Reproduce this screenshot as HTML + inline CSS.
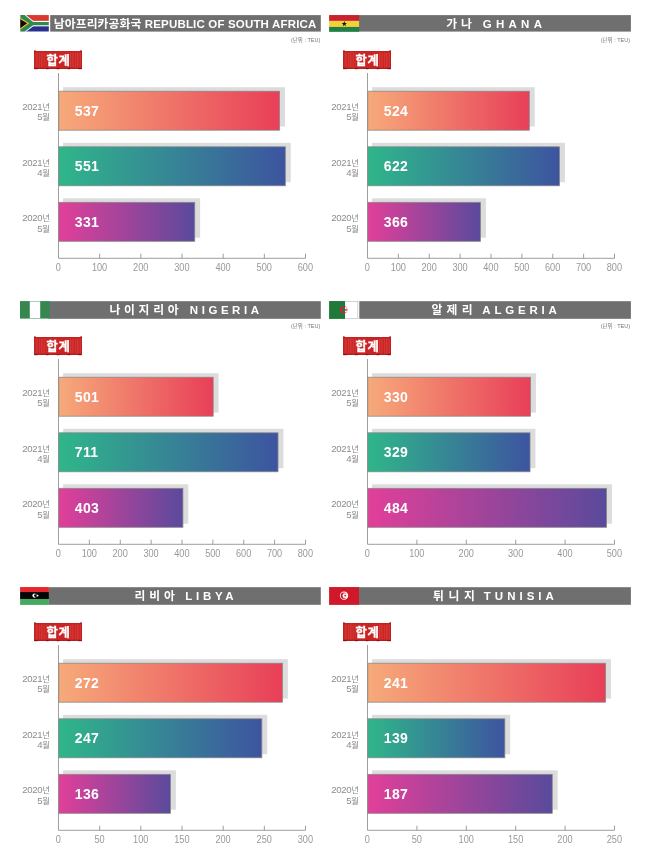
<!DOCTYPE html>
<html lang="ko"><head><meta charset="utf-8"><title>TEU</title>
<style>
html,body{margin:0;padding:0;background:#fff;}
body{width:650px;height:858px;overflow:hidden;}
svg{display:block;}
text{font-family:"Liberation Sans","Noto Sans CJK KR","NanumGothic",sans-serif;}
.tt{font-size:11.5px;font-weight:bold;fill:#fff;}
.ko{font-size:11.8px;}

.sp{letter-spacing:4px;}
.unit{font-size:5.5px;fill:#777;}
.bd{font-size:12.3px;font-weight:bold;fill:#fff;letter-spacing:0.8px;stroke:#fff;stroke-width:0.3px;}
.xl{font-size:10.2px;fill:#999;letter-spacing:0px;}
.yl{font-size:9.6px;fill:#8c8c8c;letter-spacing:-0.3px;}
.yk{font-size:8.4px;letter-spacing:0;}
.bv{font-size:14px;font-weight:bold;fill:#fff;letter-spacing:0.35px;}
</style></head><body>
<svg width="650" height="858" viewBox="0 0 650 858">
<defs>
<linearGradient id="g1" x1="0" y1="0" x2="1" y2="0"><stop offset="0" stop-color="#f6aa7a"/><stop offset="1" stop-color="#e83f58"/></linearGradient>
<linearGradient id="g2" x1="0" y1="0" x2="1" y2="0"><stop offset="0" stop-color="#2fb68a"/><stop offset="1" stop-color="#3d54a0"/></linearGradient>
<linearGradient id="g3" x1="0" y1="0" x2="1" y2="0"><stop offset="0" stop-color="#e23f99"/><stop offset="1" stop-color="#5a4a9c"/></linearGradient>
<pattern id="ribs" width="2.4" height="4" patternUnits="userSpaceOnUse"><rect width="2.4" height="4" fill="#c92222"/><rect x="0.2" width="0.9" height="4" fill="#d8433d"/></pattern>
</defs>
<rect width="650" height="858" fill="#fff"/>
<g transform="translate(0,0)">
<rect x="50.2" y="15.1" width="270.6" height="16.5" fill="#6f6f6f"/>
<g transform="translate(20.2,15.05)"><clipPath id="cza"><rect width="28.7" height="16.6"/></clipPath><g clip-path="url(#cza)">
<rect width="28.7" height="16.6" fill="#fff"/>
<rect width="28.7" height="5.8" fill="#d93a30"/>
<rect y="11.1" width="28.7" height="5.50" fill="#2a2f8f"/>
<path d="M0,0 L4.4,0 L12.9,6.9 L28.7,6.9 L28.7,10.2 L12.9,10.2 L4.4,16.6 L0,16.6 Z" fill="#fff" stroke="#fff" stroke-width="1.9"/>
<path d="M0,0 L4.4,0 L12.9,6.9 L28.7,6.9 L28.7,10.2 L12.9,10.2 L4.4,16.6 L0,16.6 Z" fill="#2e8b4f"/>
<path d="M0,2.8 L9.1,8.3 L0,14.7 Z" fill="#f2b632"/>
<path d="M0,4.2 L6.9,8.3 L0,13.2 Z" fill="#0a0a0a"/>
</g></g>
<text class="tt" x="53.8" y="27.6" style="letter-spacing:0.17px"><tspan class="ko" style="letter-spacing:0.1px">남아프리카공화국</tspan> REPUBLIC OF SOUTH AFRICA</text>
<text class="unit" x="320.3" y="42.2" text-anchor="end">(단위 : TEU)</text>
<g transform="translate(34,50.7)">
<rect x="0" y="0.4" width="48" height="17.9" fill="url(#ribs)"/>
<rect x="0" y="0.4" width="48" height="1.3" fill="#c11f22"/>
<rect x="0" y="16.9" width="48" height="1.4" fill="#b81c20"/>
<rect x="0" y="0.4" width="0.9" height="17.9" fill="#c11f22"/><rect x="47.1" y="0.4" width="0.9" height="17.9" fill="#c11f22"/>
<rect x="12.5" y="2" width="23.5" height="14.6" fill="#c92222" opacity="0.8"/>
<rect x="0" y="-0.3" width="1.8" height="1.2" fill="#a3181c"/><rect x="46.2" y="-0.3" width="1.8" height="1.2" fill="#a3181c"/>
<rect x="0.4" y="17.6" width="3.2" height="0.9" fill="#6d1013"/><rect x="12" y="17.6" width="2.6" height="0.9" fill="#6d1013"/><rect x="22.8" y="17.6" width="2.6" height="0.9" fill="#6d1013"/><rect x="33.6" y="17.6" width="2.6" height="0.9" fill="#6d1013"/><rect x="44.4" y="17.6" width="3.2" height="0.9" fill="#6d1013"/>
</g>
<text class="bd" x="58.5" y="64.9" text-anchor="middle">합계</text>
<path d="M58.5,73 V258.3 H305.5" fill="none" stroke="#868686" stroke-width="0.8"/>
<path d="M99.67,258.3 v-4.6 M140.83,258.3 v-4.6 M182.00,258.3 v-4.6 M223.17,258.3 v-4.6 M264.33,258.3 v-4.6 M305.50,258.3 v-4.6 " fill="none" stroke="#868686" stroke-width="0.8"/>
<text class="xl" transform="translate(58.40,270.7) scale(0.9,1)" text-anchor="middle">0</text>
<text class="xl" transform="translate(99.57,270.7) scale(0.9,1)" text-anchor="middle">100</text>
<text class="xl" transform="translate(140.73,270.7) scale(0.9,1)" text-anchor="middle">200</text>
<text class="xl" transform="translate(181.90,270.7) scale(0.9,1)" text-anchor="middle">300</text>
<text class="xl" transform="translate(223.07,270.7) scale(0.9,1)" text-anchor="middle">400</text>
<text class="xl" transform="translate(264.23,270.7) scale(0.9,1)" text-anchor="middle">500</text>
<text class="xl" transform="translate(305.40,270.7) scale(0.9,1)" text-anchor="middle">600</text>
<rect x="63.10" y="87.20" width="221.86" height="39.40" fill="#dcdcdc"/>
<rect x="58.80" y="91.20" width="220.76" height="39.00" fill="url(#g1)" stroke="#878787" stroke-width="0.75"/>
<text class="bv" x="74.8" y="115.70">537</text>
<text class="yl" x="50" y="110.20" text-anchor="end">2021<tspan class="yk">년</tspan></text>
<text class="yl" x="50" y="120.40" text-anchor="end">5<tspan class="yk">월</tspan></text>
<rect x="63.10" y="142.80" width="227.63" height="39.40" fill="#dcdcdc"/>
<rect x="58.80" y="146.80" width="226.53" height="39.00" fill="url(#g2)" stroke="#878787" stroke-width="0.75"/>
<text class="bv" x="74.8" y="171.30">551</text>
<text class="yl" x="50" y="165.80" text-anchor="end">2021<tspan class="yk">년</tspan></text>
<text class="yl" x="50" y="176.00" text-anchor="end">4<tspan class="yk">월</tspan></text>
<rect x="63.10" y="198.30" width="137.06" height="39.40" fill="#dcdcdc"/>
<rect x="58.80" y="202.30" width="135.96" height="39.00" fill="url(#g3)" stroke="#878787" stroke-width="0.75"/>
<text class="bv" x="74.8" y="226.80">331</text>
<text class="yl" x="50" y="221.30" text-anchor="end">2020<tspan class="yk">년</tspan></text>
<text class="yl" x="50" y="231.50" text-anchor="end">5<tspan class="yk">월</tspan></text>
</g>
<g transform="translate(309,0)">
<rect x="48.8" y="15.1" width="273.1" height="16.5" fill="#6f6f6f"/>
<g transform="translate(20.1,15.05)">
<rect width="30.0" height="5.9" fill="#c8212f"/>
<rect y="5.8" width="30.0" height="6.2" fill="#f4d03a"/>
<rect y="11.9" width="30.0" height="4.90" fill="#1f7f46"/>
<polygon points="15.20,5.95 15.84,7.92 17.91,7.92 16.24,9.14 16.88,11.11 15.20,9.89 13.52,11.11 14.16,9.14 12.49,7.92 14.56,7.92" fill="#111"/>
</g>
<text class="tt ko" x="137.20" y="27.5" style="letter-spacing:3.90px">가나</text>
<text class="tt" x="173.80" y="27.5" style="letter-spacing:4.25px">GHANA</text>
<text class="unit" x="321.1" y="42.2" text-anchor="end">(단위 : TEU)</text>
<g transform="translate(34,50.7)">
<rect x="0" y="0.4" width="48" height="17.9" fill="url(#ribs)"/>
<rect x="0" y="0.4" width="48" height="1.3" fill="#c11f22"/>
<rect x="0" y="16.9" width="48" height="1.4" fill="#b81c20"/>
<rect x="0" y="0.4" width="0.9" height="17.9" fill="#c11f22"/><rect x="47.1" y="0.4" width="0.9" height="17.9" fill="#c11f22"/>
<rect x="12.5" y="2" width="23.5" height="14.6" fill="#c92222" opacity="0.8"/>
<rect x="0" y="-0.3" width="1.8" height="1.2" fill="#a3181c"/><rect x="46.2" y="-0.3" width="1.8" height="1.2" fill="#a3181c"/>
<rect x="0.4" y="17.6" width="3.2" height="0.9" fill="#6d1013"/><rect x="12" y="17.6" width="2.6" height="0.9" fill="#6d1013"/><rect x="22.8" y="17.6" width="2.6" height="0.9" fill="#6d1013"/><rect x="33.6" y="17.6" width="2.6" height="0.9" fill="#6d1013"/><rect x="44.4" y="17.6" width="3.2" height="0.9" fill="#6d1013"/>
</g>
<text class="bd" x="58.5" y="64.9" text-anchor="middle">합계</text>
<path d="M58.5,73 V258.3 H305.5" fill="none" stroke="#868686" stroke-width="0.8"/>
<path d="M89.38,258.3 v-4.6 M120.25,258.3 v-4.6 M151.12,258.3 v-4.6 M182.00,258.3 v-4.6 M212.88,258.3 v-4.6 M243.75,258.3 v-4.6 M274.62,258.3 v-4.6 M305.50,258.3 v-4.6 " fill="none" stroke="#868686" stroke-width="0.8"/>
<text class="xl" transform="translate(58.40,270.7) scale(0.9,1)" text-anchor="middle">0</text>
<text class="xl" transform="translate(89.28,270.7) scale(0.9,1)" text-anchor="middle">100</text>
<text class="xl" transform="translate(120.15,270.7) scale(0.9,1)" text-anchor="middle">200</text>
<text class="xl" transform="translate(151.03,270.7) scale(0.9,1)" text-anchor="middle">300</text>
<text class="xl" transform="translate(181.90,270.7) scale(0.9,1)" text-anchor="middle">400</text>
<text class="xl" transform="translate(212.78,270.7) scale(0.9,1)" text-anchor="middle">500</text>
<text class="xl" transform="translate(243.65,270.7) scale(0.9,1)" text-anchor="middle">600</text>
<text class="xl" transform="translate(274.52,270.7) scale(0.9,1)" text-anchor="middle">700</text>
<text class="xl" transform="translate(305.40,270.7) scale(0.9,1)" text-anchor="middle">800</text>
<rect x="63.10" y="87.20" width="162.59" height="39.40" fill="#dcdcdc"/>
<rect x="58.80" y="91.20" width="161.49" height="39.00" fill="url(#g1)" stroke="#878787" stroke-width="0.75"/>
<text class="bv" x="74.8" y="115.70">524</text>
<text class="yl" x="50" y="110.20" text-anchor="end">2021<tspan class="yk">년</tspan></text>
<text class="yl" x="50" y="120.40" text-anchor="end">5<tspan class="yk">월</tspan></text>
<rect x="63.10" y="142.80" width="192.84" height="39.40" fill="#dcdcdc"/>
<rect x="58.80" y="146.80" width="191.74" height="39.00" fill="url(#g2)" stroke="#878787" stroke-width="0.75"/>
<text class="bv" x="74.8" y="171.30">622</text>
<text class="yl" x="50" y="165.80" text-anchor="end">2021<tspan class="yk">년</tspan></text>
<text class="yl" x="50" y="176.00" text-anchor="end">4<tspan class="yk">월</tspan></text>
<rect x="63.10" y="198.30" width="113.80" height="39.40" fill="#dcdcdc"/>
<rect x="58.80" y="202.30" width="112.70" height="39.00" fill="url(#g3)" stroke="#878787" stroke-width="0.75"/>
<text class="bv" x="74.8" y="226.80">366</text>
<text class="yl" x="50" y="221.30" text-anchor="end">2020<tspan class="yk">년</tspan></text>
<text class="yl" x="50" y="231.50" text-anchor="end">5<tspan class="yk">월</tspan></text>
</g>
<g transform="translate(0,286)">
<rect x="48.8" y="15.2" width="272.0" height="17.6" fill="#6f6f6f"/>
<g transform="translate(20,15.10)">
<rect width="29.8" height="17.5" fill="#37864f"/>
<rect x="9.8" y="0.35" width="10.4" height="16.8" fill="#fff"/>
</g>
<text class="tt ko" x="109.50" y="27.7" style="letter-spacing:3.70px">나이지리아</text>
<text class="tt" x="189.80" y="27.7" style="letter-spacing:3.55px">NIGERIA</text>
<text class="unit" x="320.3" y="42.2" text-anchor="end">(단위 : TEU)</text>
<g transform="translate(34,50.7)">
<rect x="0" y="0.4" width="48" height="17.9" fill="url(#ribs)"/>
<rect x="0" y="0.4" width="48" height="1.3" fill="#c11f22"/>
<rect x="0" y="16.9" width="48" height="1.4" fill="#b81c20"/>
<rect x="0" y="0.4" width="0.9" height="17.9" fill="#c11f22"/><rect x="47.1" y="0.4" width="0.9" height="17.9" fill="#c11f22"/>
<rect x="12.5" y="2" width="23.5" height="14.6" fill="#c92222" opacity="0.8"/>
<rect x="0" y="-0.3" width="1.8" height="1.2" fill="#a3181c"/><rect x="46.2" y="-0.3" width="1.8" height="1.2" fill="#a3181c"/>
<rect x="0.4" y="17.6" width="3.2" height="0.9" fill="#6d1013"/><rect x="12" y="17.6" width="2.6" height="0.9" fill="#6d1013"/><rect x="22.8" y="17.6" width="2.6" height="0.9" fill="#6d1013"/><rect x="33.6" y="17.6" width="2.6" height="0.9" fill="#6d1013"/><rect x="44.4" y="17.6" width="3.2" height="0.9" fill="#6d1013"/>
</g>
<text class="bd" x="58.5" y="64.9" text-anchor="middle">합계</text>
<path d="M58.5,73 V258.3 H305.5" fill="none" stroke="#868686" stroke-width="0.8"/>
<path d="M89.38,258.3 v-4.6 M120.25,258.3 v-4.6 M151.12,258.3 v-4.6 M182.00,258.3 v-4.6 M212.88,258.3 v-4.6 M243.75,258.3 v-4.6 M274.62,258.3 v-4.6 M305.50,258.3 v-4.6 " fill="none" stroke="#868686" stroke-width="0.8"/>
<text class="xl" transform="translate(58.40,270.7) scale(0.9,1)" text-anchor="middle">0</text>
<text class="xl" transform="translate(89.28,270.7) scale(0.9,1)" text-anchor="middle">100</text>
<text class="xl" transform="translate(120.15,270.7) scale(0.9,1)" text-anchor="middle">200</text>
<text class="xl" transform="translate(151.03,270.7) scale(0.9,1)" text-anchor="middle">300</text>
<text class="xl" transform="translate(181.90,270.7) scale(0.9,1)" text-anchor="middle">400</text>
<text class="xl" transform="translate(212.78,270.7) scale(0.9,1)" text-anchor="middle">500</text>
<text class="xl" transform="translate(243.65,270.7) scale(0.9,1)" text-anchor="middle">600</text>
<text class="xl" transform="translate(274.52,270.7) scale(0.9,1)" text-anchor="middle">700</text>
<text class="xl" transform="translate(305.40,270.7) scale(0.9,1)" text-anchor="middle">800</text>
<rect x="63.10" y="87.20" width="155.48" height="39.40" fill="#dcdcdc"/>
<rect x="58.80" y="91.20" width="154.38" height="39.00" fill="url(#g1)" stroke="#878787" stroke-width="0.75"/>
<text class="bv" x="74.8" y="115.70">501</text>
<text class="yl" x="50" y="110.20" text-anchor="end">2021<tspan class="yk">년</tspan></text>
<text class="yl" x="50" y="120.40" text-anchor="end">5<tspan class="yk">월</tspan></text>
<rect x="63.10" y="142.80" width="220.32" height="39.40" fill="#dcdcdc"/>
<rect x="58.80" y="146.80" width="219.22" height="39.00" fill="url(#g2)" stroke="#878787" stroke-width="0.75"/>
<text class="bv" x="74.8" y="171.30">711</text>
<text class="yl" x="50" y="165.80" text-anchor="end">2021<tspan class="yk">년</tspan></text>
<text class="yl" x="50" y="176.00" text-anchor="end">4<tspan class="yk">월</tspan></text>
<rect x="63.10" y="198.30" width="125.23" height="39.40" fill="#dcdcdc"/>
<rect x="58.80" y="202.30" width="124.13" height="39.00" fill="url(#g3)" stroke="#878787" stroke-width="0.75"/>
<text class="bv" x="74.8" y="226.80">403</text>
<text class="yl" x="50" y="221.30" text-anchor="end">2020<tspan class="yk">년</tspan></text>
<text class="yl" x="50" y="231.50" text-anchor="end">5<tspan class="yk">월</tspan></text>
</g>
<g transform="translate(309,286)">
<rect x="48.8" y="15.2" width="273.1" height="17.6" fill="#6f6f6f"/>
<g transform="translate(20.1,15.05)">
<rect x="0" y="0" width="30.2" height="17.85" fill="#fff"/><rect x="0.25" y="0.25" width="28.5" height="17.35" fill="#fff" stroke="#a8a8a8" stroke-width="0.5"/>
<rect width="15.9" height="17.85" fill="#1f7a3a"/>
<path fill-rule="evenodd" d="M10.80,8.75 a3.7,3.7 0 1,0 7.4,0 a3.7,3.7 0 1,0 -7.4,0 Z M12.95,8.75 a2.75,2.75 0 1,0 5.5,0 a2.75,2.75 0 1,0 -5.5,0 Z" fill="#d5213c"/>
<polygon points="17.46,7.04 17.46,8.35 18.70,8.75 17.46,9.15 17.46,10.46 16.69,9.40 15.44,9.81 16.21,8.75 15.44,7.69 16.69,8.10" fill="#d5213c"/>
</g>
<text class="tt ko" x="122.50" y="27.7" style="letter-spacing:4.25px">알제리</text>
<text class="tt" x="173.30" y="27.7" style="letter-spacing:3.80px">ALGERIA</text>
<text class="unit" x="321.1" y="42.2" text-anchor="end">(단위 : TEU)</text>
<g transform="translate(34,50.7)">
<rect x="0" y="0.4" width="48" height="17.9" fill="url(#ribs)"/>
<rect x="0" y="0.4" width="48" height="1.3" fill="#c11f22"/>
<rect x="0" y="16.9" width="48" height="1.4" fill="#b81c20"/>
<rect x="0" y="0.4" width="0.9" height="17.9" fill="#c11f22"/><rect x="47.1" y="0.4" width="0.9" height="17.9" fill="#c11f22"/>
<rect x="12.5" y="2" width="23.5" height="14.6" fill="#c92222" opacity="0.8"/>
<rect x="0" y="-0.3" width="1.8" height="1.2" fill="#a3181c"/><rect x="46.2" y="-0.3" width="1.8" height="1.2" fill="#a3181c"/>
<rect x="0.4" y="17.6" width="3.2" height="0.9" fill="#6d1013"/><rect x="12" y="17.6" width="2.6" height="0.9" fill="#6d1013"/><rect x="22.8" y="17.6" width="2.6" height="0.9" fill="#6d1013"/><rect x="33.6" y="17.6" width="2.6" height="0.9" fill="#6d1013"/><rect x="44.4" y="17.6" width="3.2" height="0.9" fill="#6d1013"/>
</g>
<text class="bd" x="58.5" y="64.9" text-anchor="middle">합계</text>
<path d="M58.5,73 V258.3 H305.5" fill="none" stroke="#868686" stroke-width="0.8"/>
<path d="M107.90,258.3 v-4.6 M157.30,258.3 v-4.6 M206.70,258.3 v-4.6 M256.10,258.3 v-4.6 M305.50,258.3 v-4.6 " fill="none" stroke="#868686" stroke-width="0.8"/>
<text class="xl" transform="translate(58.40,270.7) scale(0.9,1)" text-anchor="middle">0</text>
<text class="xl" transform="translate(107.80,270.7) scale(0.9,1)" text-anchor="middle">100</text>
<text class="xl" transform="translate(157.20,270.7) scale(0.9,1)" text-anchor="middle">200</text>
<text class="xl" transform="translate(206.60,270.7) scale(0.9,1)" text-anchor="middle">300</text>
<text class="xl" transform="translate(256.00,270.7) scale(0.9,1)" text-anchor="middle">400</text>
<text class="xl" transform="translate(305.40,270.7) scale(0.9,1)" text-anchor="middle">500</text>
<rect x="63.10" y="87.20" width="163.82" height="39.40" fill="#dcdcdc"/>
<rect x="58.80" y="91.20" width="162.72" height="39.00" fill="url(#g1)" stroke="#878787" stroke-width="0.75"/>
<text class="bv" x="74.8" y="115.70">330</text>
<text class="yl" x="50" y="110.20" text-anchor="end">2021<tspan class="yk">년</tspan></text>
<text class="yl" x="50" y="120.40" text-anchor="end">5<tspan class="yk">월</tspan></text>
<rect x="63.10" y="142.80" width="163.33" height="39.40" fill="#dcdcdc"/>
<rect x="58.80" y="146.80" width="162.23" height="39.00" fill="url(#g2)" stroke="#878787" stroke-width="0.75"/>
<text class="bv" x="74.8" y="171.30">329</text>
<text class="yl" x="50" y="165.80" text-anchor="end">2021<tspan class="yk">년</tspan></text>
<text class="yl" x="50" y="176.00" text-anchor="end">4<tspan class="yk">월</tspan></text>
<rect x="63.10" y="198.30" width="239.90" height="39.40" fill="#dcdcdc"/>
<rect x="58.80" y="202.30" width="238.80" height="39.00" fill="url(#g3)" stroke="#878787" stroke-width="0.75"/>
<text class="bv" x="74.8" y="226.80">484</text>
<text class="yl" x="50" y="221.30" text-anchor="end">2020<tspan class="yk">년</tspan></text>
<text class="yl" x="50" y="231.50" text-anchor="end">5<tspan class="yk">월</tspan></text>
</g>
<g transform="translate(0,572)">
<rect x="48.8" y="15.2" width="272.0" height="17.6" fill="#6f6f6f"/>
<g transform="translate(20.1,15.05)">
<rect width="28.8" height="5.1" fill="#e8262d"/>
<rect y="5.0" width="28.8" height="7.0" fill="#050505"/>
<rect y="11.9" width="28.8" height="5.95" fill="#47a961"/>
<path fill-rule="evenodd" d="M12.25,8.55 a2.15,2.15 0 1,0 4.3,0 a2.15,2.15 0 1,0 -4.3,0 Z M13.90,8.55 a1.45,1.45 0 1,0 2.9,0 a1.45,1.45 0 1,0 -2.9,0 Z" fill="#fff"/>
<polygon points="17.92,7.27 18.00,8.19 18.85,8.55 18.00,8.91 17.92,9.83 17.31,9.14 16.41,9.34 16.88,8.55 16.41,7.76 17.31,7.96" fill="#fff"/>
</g>
<text class="tt ko" x="134.40" y="27.7" style="letter-spacing:3.95px">리비아</text>
<text class="tt" x="185.30" y="27.7" style="letter-spacing:3.70px">LIBYA</text>
<g transform="translate(34,50.7)">
<rect x="0" y="0.4" width="48" height="17.9" fill="url(#ribs)"/>
<rect x="0" y="0.4" width="48" height="1.3" fill="#c11f22"/>
<rect x="0" y="16.9" width="48" height="1.4" fill="#b81c20"/>
<rect x="0" y="0.4" width="0.9" height="17.9" fill="#c11f22"/><rect x="47.1" y="0.4" width="0.9" height="17.9" fill="#c11f22"/>
<rect x="12.5" y="2" width="23.5" height="14.6" fill="#c92222" opacity="0.8"/>
<rect x="0" y="-0.3" width="1.8" height="1.2" fill="#a3181c"/><rect x="46.2" y="-0.3" width="1.8" height="1.2" fill="#a3181c"/>
<rect x="0.4" y="17.6" width="3.2" height="0.9" fill="#6d1013"/><rect x="12" y="17.6" width="2.6" height="0.9" fill="#6d1013"/><rect x="22.8" y="17.6" width="2.6" height="0.9" fill="#6d1013"/><rect x="33.6" y="17.6" width="2.6" height="0.9" fill="#6d1013"/><rect x="44.4" y="17.6" width="3.2" height="0.9" fill="#6d1013"/>
</g>
<text class="bd" x="58.5" y="64.9" text-anchor="middle">합계</text>
<path d="M58.5,73 V258.3 H305.5" fill="none" stroke="#868686" stroke-width="0.8"/>
<path d="M99.67,258.3 v-4.6 M140.83,258.3 v-4.6 M182.00,258.3 v-4.6 M223.17,258.3 v-4.6 M264.33,258.3 v-4.6 M305.50,258.3 v-4.6 " fill="none" stroke="#868686" stroke-width="0.8"/>
<text class="xl" transform="translate(58.40,270.7) scale(0.9,1)" text-anchor="middle">0</text>
<text class="xl" transform="translate(99.57,270.7) scale(0.9,1)" text-anchor="middle">50</text>
<text class="xl" transform="translate(140.73,270.7) scale(0.9,1)" text-anchor="middle">100</text>
<text class="xl" transform="translate(181.90,270.7) scale(0.9,1)" text-anchor="middle">150</text>
<text class="xl" transform="translate(223.07,270.7) scale(0.9,1)" text-anchor="middle">200</text>
<text class="xl" transform="translate(264.23,270.7) scale(0.9,1)" text-anchor="middle">250</text>
<text class="xl" transform="translate(305.40,270.7) scale(0.9,1)" text-anchor="middle">300</text>
<rect x="63.10" y="87.20" width="224.75" height="39.40" fill="#dcdcdc"/>
<rect x="58.80" y="91.20" width="223.65" height="39.00" fill="url(#g1)" stroke="#878787" stroke-width="0.75"/>
<text class="bv" x="74.8" y="115.70">272</text>
<text class="yl" x="50" y="110.20" text-anchor="end">2021<tspan class="yk">년</tspan></text>
<text class="yl" x="50" y="120.40" text-anchor="end">5<tspan class="yk">월</tspan></text>
<rect x="63.10" y="142.80" width="204.16" height="39.40" fill="#dcdcdc"/>
<rect x="58.80" y="146.80" width="203.06" height="39.00" fill="url(#g2)" stroke="#878787" stroke-width="0.75"/>
<text class="bv" x="74.8" y="171.30">247</text>
<text class="yl" x="50" y="165.80" text-anchor="end">2021<tspan class="yk">년</tspan></text>
<text class="yl" x="50" y="176.00" text-anchor="end">4<tspan class="yk">월</tspan></text>
<rect x="63.10" y="198.30" width="112.77" height="39.40" fill="#dcdcdc"/>
<rect x="58.80" y="202.30" width="111.67" height="39.00" fill="url(#g3)" stroke="#878787" stroke-width="0.75"/>
<text class="bv" x="74.8" y="226.80">136</text>
<text class="yl" x="50" y="221.30" text-anchor="end">2020<tspan class="yk">년</tspan></text>
<text class="yl" x="50" y="231.50" text-anchor="end">5<tspan class="yk">월</tspan></text>
</g>
<g transform="translate(309,572)">
<rect x="48.8" y="15.2" width="273.1" height="17.6" fill="#6f6f6f"/>
<g transform="translate(20.1,15.05)">
<rect width="29.9" height="17.85" fill="#d0182b"/>
<circle cx="14.95" cy="8.6" r="4.15" fill="#fff"/>
<path fill-rule="evenodd" d="M11.60,8.60 a3.1,3.1 0 1,0 6.2,0 a3.1,3.1 0 1,0 -6.2,0 Z M13.40,8.60 a2.3,2.3 0 1,0 4.6,0 a2.3,2.3 0 1,0 -4.6,0 Z" fill="#d0182b"/>
<polygon points="16.58,7.13 16.58,8.25 17.65,8.60 16.58,8.95 16.58,10.07 15.92,9.16 14.85,9.51 15.51,8.60 14.85,7.69 15.92,8.04" fill="#d0182b"/>
</g>
<text class="tt ko" x="124.00" y="27.7" style="letter-spacing:4.70px">튀니지</text>
<text class="tt" x="174.80" y="27.7" style="letter-spacing:4.00px">TUNISIA</text>
<g transform="translate(34,50.7)">
<rect x="0" y="0.4" width="48" height="17.9" fill="url(#ribs)"/>
<rect x="0" y="0.4" width="48" height="1.3" fill="#c11f22"/>
<rect x="0" y="16.9" width="48" height="1.4" fill="#b81c20"/>
<rect x="0" y="0.4" width="0.9" height="17.9" fill="#c11f22"/><rect x="47.1" y="0.4" width="0.9" height="17.9" fill="#c11f22"/>
<rect x="12.5" y="2" width="23.5" height="14.6" fill="#c92222" opacity="0.8"/>
<rect x="0" y="-0.3" width="1.8" height="1.2" fill="#a3181c"/><rect x="46.2" y="-0.3" width="1.8" height="1.2" fill="#a3181c"/>
<rect x="0.4" y="17.6" width="3.2" height="0.9" fill="#6d1013"/><rect x="12" y="17.6" width="2.6" height="0.9" fill="#6d1013"/><rect x="22.8" y="17.6" width="2.6" height="0.9" fill="#6d1013"/><rect x="33.6" y="17.6" width="2.6" height="0.9" fill="#6d1013"/><rect x="44.4" y="17.6" width="3.2" height="0.9" fill="#6d1013"/>
</g>
<text class="bd" x="58.5" y="64.9" text-anchor="middle">합계</text>
<path d="M58.5,73 V258.3 H305.5" fill="none" stroke="#868686" stroke-width="0.8"/>
<path d="M107.90,258.3 v-4.6 M157.30,258.3 v-4.6 M206.70,258.3 v-4.6 M256.10,258.3 v-4.6 M305.50,258.3 v-4.6 " fill="none" stroke="#868686" stroke-width="0.8"/>
<text class="xl" transform="translate(58.40,270.7) scale(0.9,1)" text-anchor="middle">0</text>
<text class="xl" transform="translate(107.80,270.7) scale(0.9,1)" text-anchor="middle">50</text>
<text class="xl" transform="translate(157.20,270.7) scale(0.9,1)" text-anchor="middle">100</text>
<text class="xl" transform="translate(206.60,270.7) scale(0.9,1)" text-anchor="middle">150</text>
<text class="xl" transform="translate(256.00,270.7) scale(0.9,1)" text-anchor="middle">200</text>
<text class="xl" transform="translate(305.40,270.7) scale(0.9,1)" text-anchor="middle">250</text>
<rect x="63.10" y="87.20" width="238.91" height="39.40" fill="#dcdcdc"/>
<rect x="58.80" y="91.20" width="237.81" height="39.00" fill="url(#g1)" stroke="#878787" stroke-width="0.75"/>
<text class="bv" x="74.8" y="115.70">241</text>
<text class="yl" x="50" y="110.20" text-anchor="end">2021<tspan class="yk">년</tspan></text>
<text class="yl" x="50" y="120.40" text-anchor="end">5<tspan class="yk">월</tspan></text>
<rect x="63.10" y="142.80" width="138.13" height="39.40" fill="#dcdcdc"/>
<rect x="58.80" y="146.80" width="137.03" height="39.00" fill="url(#g2)" stroke="#878787" stroke-width="0.75"/>
<text class="bv" x="74.8" y="171.30">139</text>
<text class="yl" x="50" y="165.80" text-anchor="end">2021<tspan class="yk">년</tspan></text>
<text class="yl" x="50" y="176.00" text-anchor="end">4<tspan class="yk">월</tspan></text>
<rect x="63.10" y="198.30" width="185.56" height="39.40" fill="#dcdcdc"/>
<rect x="58.80" y="202.30" width="184.46" height="39.00" fill="url(#g3)" stroke="#878787" stroke-width="0.75"/>
<text class="bv" x="74.8" y="226.80">187</text>
<text class="yl" x="50" y="221.30" text-anchor="end">2020<tspan class="yk">년</tspan></text>
<text class="yl" x="50" y="231.50" text-anchor="end">5<tspan class="yk">월</tspan></text>
</g>
</svg>
</body></html>
